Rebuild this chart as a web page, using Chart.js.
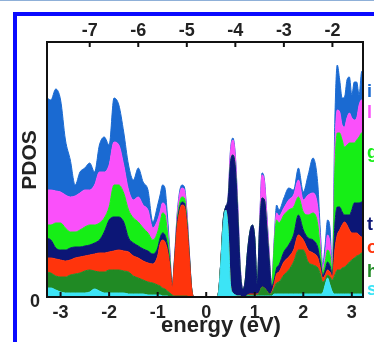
<!DOCTYPE html>
<html><head><meta charset="utf-8">
<script src="https://cdn.jsdelivr.net/npm/chart.js@4.4.1/dist/chart.umd.min.js"></script>
<style>
html,body{margin:0;padding:0;background:#fff;width:374px;height:342px;overflow:hidden;position:relative}
#topline{position:absolute;left:0;top:0;width:374px;height:1px;background:#8fb0d8}
#frame{position:absolute;left:13px;top:12px;width:400px;height:400px;border-left:4px solid #0a0aff;border-top:4px solid #0a0aff}
#c{position:absolute;left:0;top:0}
</style></head><body>
<div id="topline"></div><div id="frame"></div>
<canvas id="c" width="374" height="342"></canvas>
<script>
// energy (eV) sample points
const energy = [-3.3,-3.2,-3.1,-3.0,-2.9,-2.8,-2.7,-2.6,-2.5,-2.4,-2.3,-2.2,-2.1,-2.0,-1.9,-1.8,-1.7,-1.6,-1.5,-1.4,-1.3,-1.2,-1.1,-1.0,
 -0.95,-0.9,-0.85,-0.8,-0.75,-0.7,-0.65,-0.6,-0.55,-0.5,-0.45,-0.4,-0.35,-0.3,-0.25,-0.2,-0.15,-0.1,-0.05,0,0.05,0.1,0.15,0.2,
 0.25,0.3,0.35,0.4,0.45,0.5,0.55,0.6,0.65,0.7,0.75,0.8,0.85,0.9,0.95,1.0,1.05,1.1,1.15,1.2,1.25,1.3,1.35,1.4,1.45,
 1.5,1.6,1.7,1.8,1.9,2.0,2.1,2.2,2.3,2.35,2.4,2.45,2.5,
 2.55,2.6,2.65,2.7,2.75,2.8,2.85,2.9,2.95,3.0,3.05,3.1,3.15,3.2,3.25];

// cumulative (stacked) PDOS, bottom layer first
const sTop = [9,9,7,5,4,4,4,4,4,5,8,6,4,4,4,4,4,3,3,3,3,2,2,2,
 2,1,1,1,0,0,0,0,0,0,0,0,0,0, 0,0,0,0,0,0,0,0,0,0,
 3,33,71,87,67,12,4,2,1,1,0,0,1,1,1,1,1,1,1,1,1,1,1,3,3,
 3,3,3,3,3,3,3,3,3,3,4,12,19,12,5,3,3,3,3,3,3,3,3,3,3,3,3,3];
const hTop = [25,24,21,20,20,22,23,24,26,27,26,25,25,27,27,27,26,25,21,19,17,15,14,12,
 11,9,8,6,4,2,1,1,1,1,1,1,0,0, 0,0,0,0,0,0,0,0,0,0,
 3,33,71,87,67,12,4,2,1,1,0,0,2,2,2,2,2,5,10,9,6,3,4,9,14,
 15,22,27,35,47,47,35,32,29,23,15,17,22,20,17,22,27,27,29,30,32,35,37,39,41,42,44,44];
const oTop = [39,39,38,37,36,37,39,40,41,42,43,44,44,45,46,47,46,45,41,39,36,34,33,41,
 53,57,55,47,32,10,37,69,85,92,91,72,40,8, 0,0,0,0,0,0,0,0,0,0,
 3,33,71,87,67,12,4,2,1,1,0,0,2,3,3,3,3,5,10,9,6,3,5,13,23,
 25,35,40,47,62,57,47,44,39,29,19,22,27,25,20,47,62,67,72,75,72,67,64,64,64,62,60,60];
const tTop = [59,57,49,47,47,49,50,50,51,52,54,57,65,77,80,80,75,59,54,51,48,46,43,49,
 59,64,62,52,34,10,38,72,89,95,94,75,42,8, 0,0,0,0,0,0,0,0,0,0,
 4,35,77,90,97,134,142,129,82,27,8,15,45,65,72,59,13,69,99,97,69,35,11,17,29,
 32,45,52,62,82,67,59,57,49,35,22,27,35,31,22,72,90,90,85,82,82,82,87,94,94,94,95,95];
const gTop = [72,72,74,74,69,65,65,67,70,72,72,74,79,90,112,112,104,87,79,75,69,64,57,65,
 75,84,82,65,39,11,39,75,94,100,99,79,44,9, 0,0,0,0,0,0,0,0,0,0,
 4,35,77,90,97,134,142,129,82,27,8,15,45,65,72,59,13,69,99,97,69,35,11,51,77,
 74,82,87,90,100,85,82,84,72,47,25,35,47,42,24,127,164,164,157,150,152,154,154,154,157,160,164,164];
const lTop = [107,107,106,105,102,100,101,104,107,107,112,125,125,132,155,152,132,107,97,100,92,87,69,77,
 85,94,92,72,42,11,41,80,102,109,107,85,46,9, 0,0,0,0,0,0,0,0,0,0,
 4,35,77,90,99,145,157,140,90,31,9,15,45,65,72,59,13,74,122,115,80,41,12,54,84,
 81,89,97,102,117,97,102,104,89,57,29,42,62,54,25,147,187,185,172,170,179,184,179,177,179,192,197,197];
const iTop = [200,197,208,197,157,137,112,125,129,134,125,152,160,152,199,192,165,132,117,129,115,107,75,92,
 102,112,109,82,47,12,42,82,105,112,110,87,47,9, 0,0,0,0,0,0,0,0,0,0,
 4,35,77,90,100,147,159,142,92,32,9,15,45,65,72,59,13,75,124,117,82,42,12,57,92,
 87,99,109,107,129,105,122,139,112,67,32,52,77,69,27,177,232,217,199,200,217,220,202,215,215,202,225,227];

const bottomTicks = [-3,-2,-1,0,1,2,3];
const topTicks = [-7,-6,-5,-4,-3,-2];
const legendLetters = ['i','l','g','t','o','h','s'];

const series = [
  {data:sTop, color:'rgb(60,228,246)'},
  {data:hTop, color:'rgb(32,138,36)'},
  {data:oTop, color:'rgb(255,52,12)'},
  {data:tTop, color:'rgb(12,22,118)'},
  {data:gTop, color:'rgb(22,238,22)'},
  {data:lTop, color:'rgb(250,80,250)'},
  {data:iTop, color:'rgb(26,106,210)'}
];

Chart.defaults.font.family = '"Liberation Sans", Arial, sans-serif';
Chart.defaults.font.weight = 'bold';
Chart.defaults.color = '#222';

const decor = {
  id:'decor',
  afterDraw(chart){
    const {ctx, chartArea:a, scales} = chart;
    ctx.save();
    ctx.strokeStyle = '#111';
    ctx.lineWidth = 2;
    ctx.strokeRect(a.left, a.top, a.right - a.left, a.bottom - a.top);
    bottomTicks.forEach(v => {
      const x = scales.x.getPixelForValue(v);
      ctx.beginPath(); ctx.moveTo(x, a.bottom); ctx.lineTo(x, a.bottom - 5); ctx.stroke();
    });
    topTicks.forEach(v => {
      const x = scales.x2.getPixelForValue(v);
      ctx.beginPath(); ctx.moveTo(x, a.top); ctx.lineTo(x, a.top + 5); ctx.stroke();
    });
    ctx.fillStyle = '#222';
    ctx.textAlign = 'center';
    ctx.textBaseline = 'middle';
    ctx.font = 'bold 22px "Liberation Sans", Arial, sans-serif';
    ctx.fillText('energy (eV)', 221, 326);
    ctx.save();
    ctx.translate(30, 160);
    ctx.rotate(-Math.PI / 2);
    ctx.font = 'bold 21px "Liberation Sans", Arial, sans-serif';
    ctx.fillText('PDOS', 0, 0);
    ctx.restore();
    // legend (cut off at the right edge)
    const baselines = [97, 118, 158, 230, 253, 277, 295];
    ctx.font = 'bold 18px "Liberation Sans", Arial, sans-serif';
    ctx.textAlign = 'left';
    ctx.textBaseline = 'alphabetic';
    const order = [6,5,4,3,2,1,0];
    order.forEach((si, k) => {
      ctx.fillStyle = series[si].color;
      ctx.fillText(legendLetters[k], 367, baselines[k]);
    });
    ctx.restore();
  }
};

const xmin = -3.28, xmax = 3.23, topShift = 4.6;

new Chart(document.getElementById('c'), {
  type: 'line',
  data: {
    datasets: series.map((s, i) => ({
      data: energy.map((e, k) => ({x: e, y: s.data[k]})),
      backgroundColor: s.color,
      borderColor: s.color,
      borderWidth: 1,
      pointRadius: 0,
      fill: i === 0 ? 'origin' : '-1',
      cubicInterpolationMode: 'monotone'
    }))
  },
  options: {
    responsive: false,
    animation: false,
    devicePixelRatio: 1,
    events: [],
    layout: {padding: {left: 0, right: 11, top: 0, bottom: 0}},
    plugins: {legend: {display: false}, tooltip: {enabled: false}},
    scales: {
      x: {
        type: 'linear', position: 'bottom', min: xmin, max: xmax,
        grid: {display: false, drawTicks: false}, border: {display: false},
        ticks: {font: {size: 18, weight: 'bold'}, padding: 5, color: '#222', callback: v => String(v)},
        afterBuildTicks: s => { s.ticks = bottomTicks.map(v => ({value: v})); },
        afterFit: s => { s.height = 45; }
      },
      x2: {
        type: 'linear', position: 'top', min: xmin - topShift, max: xmax - topShift,
        grid: {display: false, drawTicks: false}, border: {display: false},
        ticks: {font: {size: 18, weight: 'bold'}, padding: 0, color: '#222', callback: v => String(v)},
        afterBuildTicks: s => { s.ticks = topTicks.map(v => ({value: v})); },
        afterFit: s => { s.height = 42; }
      },
      y: {
        type: 'linear', min: 0, max: 255,
        grid: {display: false, drawTicks: false}, border: {display: false},
        ticks: {font: {size: 18, weight: 'bold'}, padding: 7, labelOffset: 5, color: '#222', callback: v => String(v)},
        afterBuildTicks: s => { s.ticks = [{value: 0}]; },
        afterFit: s => { s.width = 47; }
      }
    }
  },
  plugins: [decor]
});
</script>
</body></html>
